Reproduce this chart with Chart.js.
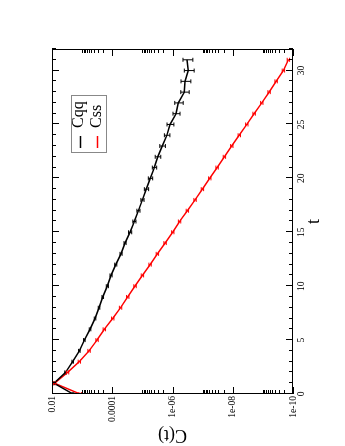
<!DOCTYPE html>
<html>
<head>
<meta charset="utf-8">
<script src="https://cdn.jsdelivr.net/npm/chart.js@4.4.0/dist/chart.umd.min.js"></script>
<style>
body { margin: 0; background: #fff; overflow: hidden; }
/* the figure is drawn landscape and turned a quarter turn, like the printed plot */
#wrap { position: absolute; left: 0; top: 0; width: 446px; height: 345px;
        transform-origin: 0 0; transform: translate(0, 446px) rotate(-90deg); background: #fff; }
</style>
</head>
<body>
<div id="wrap"><canvas id="chart" width="446" height="345"></canvas></div>
<script>
var times = [0,1,2,3,4,5,6,7,8,9,10,11,12,13,14,15,16,17,18,19,20,21,22,23,24,25,26,27,28,29,30,31];
var cqq = [2.01e-3, 8.6e-3, 3.56e-3, 2.06e-3, 1.24e-3, 8.47e-4, 5.47e-4, 3.73e-4, 2.75e-4, 2.07e-4,
           1.46e-4, 1.10e-4, 7.67e-5, 5.12e-5, 3.77e-5, 2.57e-5, 1.85e-5, 1.36e-5, 1.00e-5, 7.40e-6,
           5.45e-6, 4.01e-6, 3.10e-6, 2.18e-6, 1.54e-6, 1.21e-6, 7.63e-7, 6.41e-7, 4.05e-7, 3.84e-7,
           2.98e-7, 3.30e-7];
var cqqErr = [1.2e-4, 5.2e-4, 2.1e-4, 1.2e-4, 7.4e-5, 5.1e-5, 3.3e-5, 2.2e-5, 1.65e-5, 1.24e-5,
              1.17e-5, 8.8e-6, 6.1e-6, 4.1e-6, 3.0e-6, 3.1e-6, 2.2e-6, 1.6e-6, 1.2e-6, 1.2e-6,
              9.0e-7, 6.6e-7, 6.5e-7, 4.6e-7, 3.2e-7, 3.1e-7, 2.0e-7, 2.0e-7, 1.26e-7, 1.38e-7,
              1.07e-7, 1.19e-7];
var css = [1.17e-3, 8.26e-3, 3.05e-3, 1.24e-3, 5.91e-4, 3.21e-4, 1.84e-4, 9.66e-5, 5.32e-5, 3.07e-5,
           1.76e-5, 1.00e-5, 5.57e-6, 3.19e-6, 1.77e-6, 9.83e-7, 5.85e-7, 3.22e-7, 1.79e-7, 1.02e-7,
           5.81e-8, 3.32e-8, 1.90e-8, 1.08e-8, 6.09e-9, 3.43e-9, 1.96e-9, 1.09e-9, 6.24e-10, 3.65e-10,
           2.09e-10, 1.43e-10];
var cssErr = [1.1e-4, 7.4e-4, 2.7e-4, 1.1e-4, 5.3e-5, 2.9e-5, 1.7e-5, 8.7e-6, 4.8e-6, 2.8e-6,
              1.6e-6, 9.0e-7, 5.0e-7, 2.9e-7, 1.6e-7, 8.8e-8, 5.3e-8, 2.9e-8, 1.6e-8, 9.2e-9,
              5.2e-9, 3.0e-9, 1.7e-9, 9.7e-10, 5.5e-10, 3.1e-10, 1.8e-10, 9.8e-11, 5.6e-11, 3.3e-11,
              1.9e-11, 1.3e-11];
var tTicks = [0, 5, 10, 15, 20, 25, 30];
var cTicks = [1e-2, 1e-4, 1e-6, 1e-8, 1e-10];
var cTickLabels = ['0.01', '0.0001', '1e-06', '1e-08', '1e-10'];

var serif = "'Liberation Serif', 'DejaVu Serif', serif";

function points(vals) {
  return times.map(function (t, i) { return { x: t, y: vals[i] }; });
}

// grace style: inward ticks on all four sides, error bars, boxed legend
var gracePlot = {
  id: 'gracePlot',
  afterDatasetsDraw: function (chart) {
    var ctx = chart.ctx, a = chart.chartArea, x = chart.scales.x, y = chart.scales.y;
    ctx.save();
    ctx.beginPath();
    ctx.rect(a.left, a.top, a.width, a.height);
    ctx.clip();
    chart.data.datasets.forEach(function (ds) {
      ctx.strokeStyle = ds.borderColor;
      ctx.lineWidth = 1;
      ctx.beginPath();
      ds.data.forEach(function (p, i) {
        var e = ds.errors[i];
        var px = x.getPixelForValue(p.x);
        var hi = y.getPixelForValue(p.y + e);
        var lo = y.getPixelForValue(Math.max(p.y - e, 1e-12));
        ctx.moveTo(px, hi); ctx.lineTo(px, lo);
        ctx.moveTo(px - 2, hi); ctx.lineTo(px + 2, hi);
        ctx.moveTo(px - 2, lo); ctx.lineTo(px + 2, lo);
      });
      ctx.stroke();
    });
    ctx.restore();

    ctx.save();
    ctx.strokeStyle = '#000';
    ctx.lineWidth = 1;
    ctx.beginPath();
    for (var t = 0; t <= 32; t++) {
      var px = Math.round(x.getPixelForValue(t)) + 0.5;
      var len = t % 5 === 0 ? 7 : 4;
      ctx.moveTo(px, a.bottom); ctx.lineTo(px, a.bottom - len);
      ctx.moveTo(px, a.top); ctx.lineTo(px, a.top + len);
    }
    cTicks.forEach(function (v) {
      var py = Math.round(y.getPixelForValue(v)) + 0.5;
      ctx.moveTo(a.left, py); ctx.lineTo(a.left + 7, py);
      ctx.moveTo(a.right, py); ctx.lineTo(a.right - 7, py);
      if (v < 1e-2) {
        for (var m = 2; m <= 10; m++) {
          var q = Math.round(y.getPixelForValue(m * v)) + 0.5;
          ctx.moveTo(a.left, q); ctx.lineTo(a.left + 4, q);
          ctx.moveTo(a.right, q); ctx.lineTo(a.right - 4, q);
        }
      }
    });
    ctx.stroke();
    ctx.strokeRect(a.left + 0.5, a.top + 0.5, a.width - 1, a.height - 1);

    // legend
    ctx.strokeStyle = '#888';
    ctx.fillStyle = '#fff';
    ctx.fillRect(293.5, 71.5, 57, 35);
    ctx.strokeRect(293.5, 71.5, 57, 35);
    ctx.font = '16px ' + serif;
    ctx.textBaseline = 'alphabetic';
    chart.data.datasets.forEach(function (ds, i) {
      var ly = 80.5 + i * 17;
      ctx.strokeStyle = ds.borderColor;
      ctx.lineWidth = 1.5;
      ctx.beginPath();
      ctx.moveTo(298, ly); ctx.lineTo(310, ly);
      ctx.stroke();
      ctx.fillStyle = '#000';
      ctx.fillText(ds.label, 318, 82.5 + i * 18);
    });
    ctx.restore();
  }
};

new Chart(document.getElementById('chart'), {
  type: 'line',
  data: {
    datasets: [
      { label: 'Cqq', data: points(cqq), errors: cqqErr, borderColor: '#000000',
        borderWidth: 1.5, pointRadius: 0, tension: 0, fill: false },
      { label: 'Css', data: points(css), errors: cssErr, borderColor: '#ff0000',
        borderWidth: 1.5, pointRadius: 0, tension: 0, fill: false }
    ]
  },
  options: {
    responsive: false,
    animation: false,
    devicePixelRatio: 1,
    layout: { padding: { top: 52, right: 49, left: 0, bottom: 0 } },
    plugins: { legend: { display: false }, tooltip: { enabled: false } },
    scales: {
      x: {
        type: 'linear', min: 0, max: 32, position: 'bottom',
        grid: { display: false, drawTicks: false },
        border: { display: false },
        afterBuildTicks: function (s) { s.ticks = tTicks.map(function (v) { return { value: v }; }); },
        afterFit: function (s) { s.height = 52; },
        ticks: { maxRotation: 0, minRotation: 0, autoSkip: false, padding: 3, color: '#000',
                 font: { family: serif, size: 9.5 } },
        title: { display: true, text: 't', color: '#000', font: { family: serif, size: 18 },
                 padding: { top: 0, bottom: 20 } }
      },
      y: {
        type: 'logarithmic', min: 1e-10, max: 1e-2, position: 'left',
        grid: { display: false, drawTicks: false },
        border: { display: false },
        afterBuildTicks: function (s) { s.ticks = cTicks.map(function (v) { return { value: v }; }); },
        afterFit: function (s) { s.width = 52; },
        ticks: { autoSkip: false, padding: 2, color: '#000', font: { family: serif, size: 9.5 },
                 callback: function (v) { return cTickLabels[cTicks.indexOf(v)]; } },
        title: { display: true, text: 'C(t)', color: '#000', font: { family: serif, size: 18 },
                 padding: { top: 0, bottom: 0 } }
      }
    }
  },
  plugins: [gracePlot]
});
</script>
</body>
</html>
